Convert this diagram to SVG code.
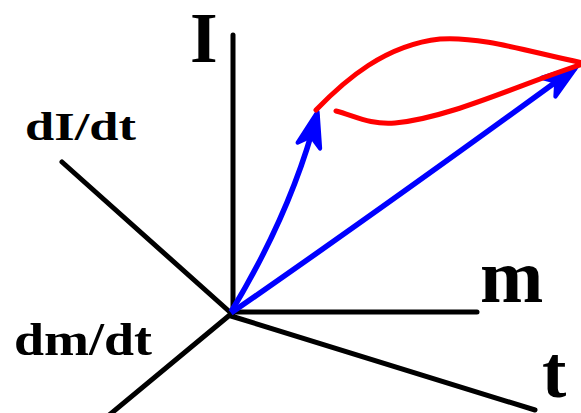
<svg xmlns="http://www.w3.org/2000/svg" width="581" height="413" viewBox="0 0 581 413">
<style>
.ax{stroke:#000;stroke-width:5;fill:none;stroke-linecap:round}
.vec{stroke:#0000ff;stroke-width:5.5;fill:none;stroke-linecap:butt}
.loop{stroke:#ff0000;stroke-width:5;fill:none;stroke-linecap:round}
.lbl{font-family:"Liberation Serif","Times New Roman",serif;font-weight:bold;fill:#000}
</style>
<defs>
<marker id="ah" markerUnits="userSpaceOnUse" markerWidth="40" markerHeight="30" viewBox="-34 -14 38 28" refX="0" refY="0" orient="auto" overflow="visible">
<path d="M2,0 L-31,-11 L-22,0 L-31,11 Z" fill="#0000ff" stroke="#0000ff" stroke-width="4" stroke-linejoin="round"/>
</marker>
</defs>
<rect width="581" height="413" fill="#fff"/>
<g id="connectors">
<path class="ax" d="M233,313 L233,35"/>
<path class="ax" d="M230,312 L477,312"/>
<path class="ax" d="M231,316 L535,410"/>
<path class="ax" d="M62,162 L231,313"/>
<path class="ax" d="M231,314 L108,416"/>
<path class="vec" d="M231,312 Q292,211 317,114" marker-end="url(#ah)"/>
<path class="vec" d="M231,313 Q380,210 575,68" marker-end="url(#ah)"/>
<path class="loop" d="M316,110 C345,80 385,45 440,39 C480,36 530,52 583,63"/>
<path class="loop" d="M583,64 C520,84 450,118 395,123 C370,125 355,116 336,111"/>
</g>
<g id="label-I"><text class="lbl" x="190" y="62" font-size="71">I</text></g>
<g id="label-dIdt"><text class="lbl" x="25" y="140" font-size="41" textLength="111" lengthAdjust="spacingAndGlyphs">dI/dt</text></g>
<g id="label-m"><text class="lbl" x="480" y="302" font-size="76">m</text></g>
<g id="label-dmdt"><text class="lbl" x="14" y="355" font-size="47" textLength="138" lengthAdjust="spacingAndGlyphs">dm/dt</text></g>
<g id="label-t"><text class="lbl" x="542" y="397" font-size="73">t</text></g>
</svg>
